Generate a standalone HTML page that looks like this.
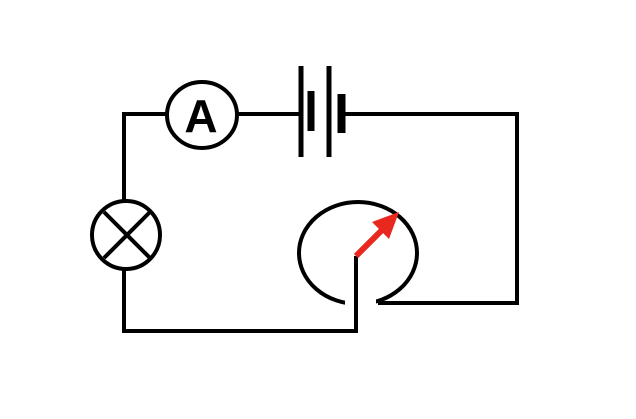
<!DOCTYPE html>
<html><head><style>html,body{margin:0;padding:0;background:#fff}</style></head><body>
<svg width="636" height="414" viewBox="0 0 636 414" xmlns="http://www.w3.org/2000/svg">
<g fill="none" stroke="#000" stroke-width="4">
<ellipse cx="358" cy="253" rx="59" ry="51"/>
</g>
<rect x="345" y="285" width="31" height="26" fill="#fff"/>
<g fill="none" stroke="#000" stroke-width="4">
<polyline points="122,114 168,114"/>
<polyline points="236,114 301,114"/>
<polyline points="341,114 517,114 517,303 378,303"/>
<polyline points="124,114 124,202"/>
<polyline points="124,268 124,331 356,331 356,256"/>
<ellipse cx="202" cy="115" rx="35" ry="33"/>
<circle cx="126" cy="235" r="34"/>
<line x1="104" y1="212" x2="150" y2="258"/>
<line x1="150" y1="212" x2="104" y2="258"/>
</g>
<rect x="298.5" y="66" width="5" height="91" fill="#000"/>
<rect x="326.5" y="66" width="5" height="91" fill="#000"/>
<rect x="307.5" y="91" width="7" height="40" fill="#000"/>
<rect x="337.5" y="94" width="8" height="39" fill="#000"/>
<text x="201" y="132" font-family="Liberation Sans, sans-serif" font-weight="bold" font-size="46" text-anchor="middle">A</text>
<line x1="356" y1="256" x2="384" y2="228" stroke="#e8281f" stroke-width="6"/>
<polygon points="399,212 372,222 389,239" fill="#e8281f"/>
</svg>
</body></html>
